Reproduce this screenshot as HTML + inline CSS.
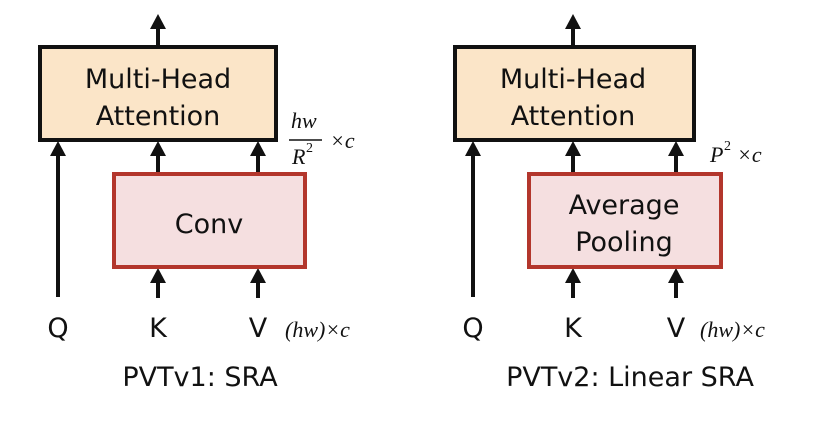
<!DOCTYPE html>
<html><head><meta charset="utf-8"><style>
body{margin:0;background:#fff;}
svg{display:block}
.t{font-family:"DejaVu Sans","Liberation Sans",sans-serif;fill:#111;}
.m{font-family:"Liberation Serif",serif;font-style:italic;fill:#111;}
</style></head><body>
<svg width="824" height="426" viewBox="0 0 824 426" xmlns="http://www.w3.org/2000/svg">
<defs><marker id="a" markerWidth="4" markerHeight="4" refX="2" refY="2" orient="auto" markerUnits="strokeWidth"><path d="M0,0 L4,2 L0,4 z" fill="#111" transform="rotate(0)"/></marker></defs>
<g stroke="#111" stroke-width="4" fill="none">
<!-- left -->
<line x1="158" y1="46" x2="158" y2="28"/><line x1="58" y1="297" x2="58" y2="154"/>
<line x1="158" y1="172" x2="158" y2="154"/><line x1="258" y1="172" x2="258" y2="154"/>
<line x1="158" y1="298" x2="158" y2="281"/><line x1="258" y1="298" x2="258" y2="281"/>
<!-- right -->
<line x1="573" y1="46" x2="573" y2="28"/><line x1="473" y1="297" x2="473" y2="154"/>
<line x1="573" y1="172" x2="573" y2="154"/><line x1="676" y1="172" x2="676" y2="154"/>
<line x1="573" y1="298" x2="573" y2="281"/><line x1="676" y1="298" x2="676" y2="281"/>
</g>
<g fill="#111">
<path d="M158,14 l-8,15 h16z"/><path d="M58,141 l-8,15 h16z"/><path d="M158,141 l-8,15 h16z"/><path d="M258,141 l-8,15 h16z"/>
<path d="M158,268 l-8,15 h16z"/><path d="M258,268 l-8,15 h16z"/>
<path d="M573,14 l-8,15 h16z"/><path d="M473,141 l-8,15 h16z"/><path d="M573,141 l-8,15 h16z"/><path d="M676,141 l-8,15 h16z"/>
<path d="M573,268 l-8,15 h16z"/><path d="M676,268 l-8,15 h16z"/>
</g>
<rect x="40" y="47" width="236" height="93" fill="#fbe5c8" stroke="#111" stroke-width="4"/>
<rect x="114" y="174" width="191" height="93" fill="#f5dfe0" stroke="#b3362c" stroke-width="4"/>
<rect x="455" y="47" width="239" height="93" fill="#fbe5c8" stroke="#111" stroke-width="4"/>
<rect x="529" y="174" width="192" height="93" fill="#f5dfe0" stroke="#b3362c" stroke-width="4"/>
<g class="t" font-size="27" text-anchor="middle">
<text x="158" y="88">Multi-Head</text><text x="158" y="125">Attention</text>
<text x="209" y="233">Conv</text>
<text x="573" y="88">Multi-Head</text><text x="573" y="125">Attention</text>
<text x="624" y="214">Average</text><text x="624" y="251">Pooling</text>
<text x="58" y="337">Q</text><text x="158" y="337">K</text><text x="258" y="337">V</text>
<text x="473" y="337">Q</text><text x="573" y="337">K</text><text x="676" y="337">V</text>
<text x="200" y="386">PVTv1: SRA</text><text x="630" y="386">PVTv2: Linear SRA</text>
</g>
<g class="m" font-size="22">
<text x="285" y="337">(hw)×c</text><text x="700" y="337">(hw)×c</text>
<text x="291" y="128">hw</text><line x1="289" y1="140" x2="322" y2="140" stroke="#111" stroke-width="1.5"/>
<text x="292" y="164">R</text><text x="306" y="152" font-size="14" font-style="normal">2</text>
<text x="330" y="148">×c</text>
<text x="710" y="162">P</text><text x="724" y="150" font-size="14" font-style="normal">2</text><text x="737" y="162">×c</text>
</g>
</svg>
</body></html>
